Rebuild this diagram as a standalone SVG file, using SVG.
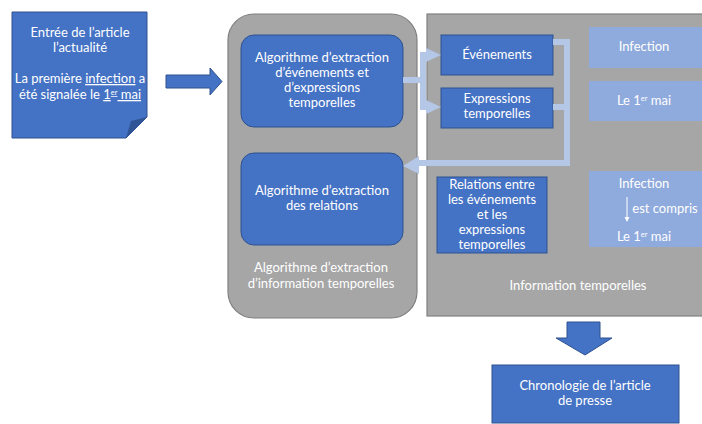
<svg xmlns="http://www.w3.org/2000/svg" width="702" height="424" viewBox="0 0 702 424">
<defs>
<style>
text{font-family:Lato,"Open Sans","Liberation Sans",sans-serif;font-size:13px;fill:#fff;text-anchor:middle}
.blue{fill:#4472c4;stroke:#2f528f;stroke-width:1}
.light{fill:#8faadc}
.gray{fill:#a6a6a6;stroke:#808080;stroke-width:1.2}
.conn{fill:none;stroke:#b4c7e7;stroke-width:6}
.head{fill:#b4c7e7}
.sup{font-size:7.5px}
</style>
</defs>
<rect width="702" height="424" fill="#fff"/>
<g id="container-algo">
<rect class="gray" x="228" y="14" width="189" height="304" rx="26"/>
<text x="321" y="272">Algorithme d’extraction</text>
<text x="321" y="288">d’information temporelles</text>
</g>
<g id="container-info">
<rect class="gray" x="427" y="14" width="290" height="302"/>
<text x="578" y="290">Information temporelles</text>
</g>
<g id="input">
<path d="M12,12 H147 V117 L126,138 H12 Z" fill="#4472c4" stroke="#2f528f" stroke-width="1"/>
<path d="M126,138 L131,121 L147,117 Z" fill="#2f5597"/>
<text x="80" y="37">Entrée de l’article</text>
<text x="80" y="52">l’actualité</text>
<text x="80" y="83">La première <tspan text-decoration="underline">infection</tspan> a</text>
<text x="80" y="99">été signalée le <tspan text-decoration="underline">1<tspan class="sup" dy="-4">er</tspan><tspan dy="4"> mai</tspan></tspan></text>
</g>
<g id="arrow-in">
<path d="M166,75 H210 V68 L222,81.5 L210,95 V88 H166 Z" fill="#4472c4" stroke="#2f528f" stroke-width="1"/>
</g>
<g id="algo-events">
<rect class="blue" x="241" y="35" width="162" height="92" rx="13"/>
<text x="322" y="62">Algorithme d’extraction</text>
<text x="322" y="77">d’événements et</text>
<text x="322" y="92">d’expressions</text>
<text x="322" y="107">temporelles</text>
</g>
<g id="algo-relations">
<rect class="blue" x="241" y="153" width="162" height="92" rx="13"/>
<text x="322" y="195">Algorithme d’extraction</text>
<text x="322" y="210">des relations</text>
</g>
<g id="evenements">
<rect class="blue" x="441" y="35" width="112" height="40"/>
<text x="497" y="59">Événements</text>
</g>
<g id="expressions">
<rect class="blue" x="441" y="88" width="112" height="40"/>
<text x="497" y="103">Expressions</text>
<text x="497" y="118">temporelles</text>
</g>
<g id="infection">
<rect class="light" x="589" y="27" width="113" height="41"/>
<text x="644" y="51">Infection</text>
</g>
<g id="le1ermai">
<rect class="light" x="589" y="81" width="113" height="40"/>
<text x="644" y="105">Le 1<tspan class="sup" dy="-4">er</tspan><tspan dy="4"> mai</tspan></text>
</g>
<g id="relations">
<rect class="blue" x="437" y="177" width="110" height="76"/>
<text x="492" y="189">Relations entre</text>
<text x="492" y="204">les événements</text>
<text x="492" y="219">et les</text>
<text x="492" y="234">expressions</text>
<text x="492" y="249">temporelles</text>
</g>
<g id="relation-example">
<rect class="light" x="589" y="171" width="113" height="76"/>
<text x="644" y="188">Infection</text>
<line x1="627" y1="197" x2="627" y2="218" stroke="#fff" stroke-width="1"/>
<path d="M624.5,217 L627,222 L629.5,217 Z" fill="#fff"/>
<text x="665" y="213">est compris</text>
<text x="644" y="241">Le 1<tspan class="sup" dy="-4">er</tspan><tspan dy="4"> mai</tspan></text>
</g>
<g id="chronologie">
<rect class="blue" x="492" y="365" width="187" height="58"/>
<text x="585" y="390">Chronologie de l’article</text>
<text x="585" y="405">de presse</text>
</g>
<g id="connectors">
<path class="conn" d="M403,80 H423 M423,55 V107 M420,55 H428 M420,107 H428"/>
<path class="head" d="M426,48 L441,55 L426,62 Z"/>
<path class="head" d="M426,100 L441,107 L426,114 Z"/>
<path class="conn" d="M553,42 H567 V163 H417 M553,107 H567"/>
<path class="head" d="M419,156 L403,166 L419,174 Z"/>
<path d="M567,322 H600 V338 H612 L585,355 L556,338 H567 Z" fill="#4472c4" stroke="#2f528f" stroke-width="1"/>
</g>
</svg>
